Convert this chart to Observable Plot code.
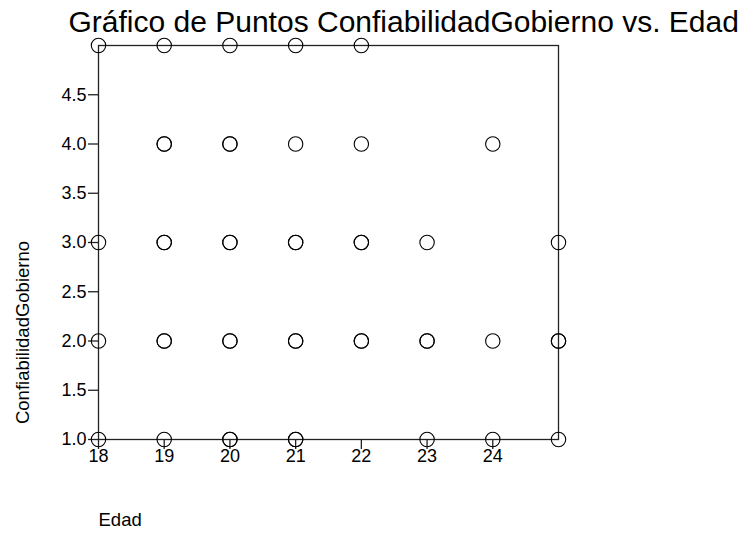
<!DOCTYPE html>
<html><head><meta charset="utf-8">
<script src="https://cdn.jsdelivr.net/npm/d3@7"></script>
<script src="https://cdn.jsdelivr.net/npm/@observablehq/plot@0.6"></script>
<style>html,body{margin:0;padding:0;background:#fff;overflow:hidden;width:755px;height:533px}</style>
</head><body><div id="chart"></div>
<script>
const edad = [18,19,20,21,22, 19,19,20,20,21,22,24, 18,19,19,20,20,21,21,22,22,23,25, 18,19,19,20,20,21,21,22,22,23,23,24,25,25, 18,19,20,20,21,21,23,24,25];
const confianza = [5,5,5,5,5, 4,4,4,4,4,4,4, 3,3,3,3,3,3,3,3,3,3,3, 2,2,2,2,2,2,2,2,2,2,2,2,2,2, 1,1,1,1,1,1,1,1,1];
const xTicks = [18,19,20,21,22,23,24];
const yTicks = [1.0,1.5,2.0,2.5,3.0,3.5,4.0,4.5];
const title = "Gráfico de Puntos ConfiabilidadGobierno vs. Edad";
const xLabel = "Edad";
const yLabel = "ConfiabilidadGobierno";

const data = edad.map((e,i)=>({edad:e, conf:confianza[i]}));
const font = "Liberation Sans, Arial, Helvetica, sans-serif";

const chart = Plot.plot({
  width: 755, height: 533,
  marginLeft: 98, marginRight: 197, marginTop: 45, marginBottom: 94,
  style: {fontFamily: font, fontSize: "18px", color: "#000", background: "#fff", overflow: "visible"},
  x: {domain: [18,25], label: null},
  y: {domain: [1,5], label: null},
  marks: [
    Plot.frame({stroke: "#222", strokeWidth: 1.3}),
    Plot.axisX({ticks: xTicks, tickSize: 10, tickPadding: 0, tickFormat: d3.format("d"), fontSize: 18, stroke: "#222", strokeWidth: 1.3}),
    Plot.axisY({ticks: yTicks, tickSize: 10, tickPadding: 2, tickFormat: d3.format(".1f"), fontSize: 18, stroke: "#222", strokeWidth: 1.3}),
    Plot.dot(data, {x: "edad", y: "conf", r: 7.2, stroke: "#000", strokeWidth: 1.1, fill: "none"}),
    Plot.text([title], {frameAnchor: "top-left", text: d => d, dx: -30, dy: -23, textAnchor: "start", lineAnchor: "middle", fontSize: 30, fill: "#000"}),
    Plot.text([xLabel], {frameAnchor: "bottom-left", text: d => d, dx: 0, dy: 86, textAnchor: "start", fontSize: 18.5, fill: "#000"}),
    Plot.text([yLabel], {frameAnchor: "left", text: d => d, dx: -75, dy: 90, rotate: -90, textAnchor: "middle", fontSize: 18.5, fill: "#000"})
  ]
});
document.getElementById("chart").appendChild(chart);
</script></body></html>
